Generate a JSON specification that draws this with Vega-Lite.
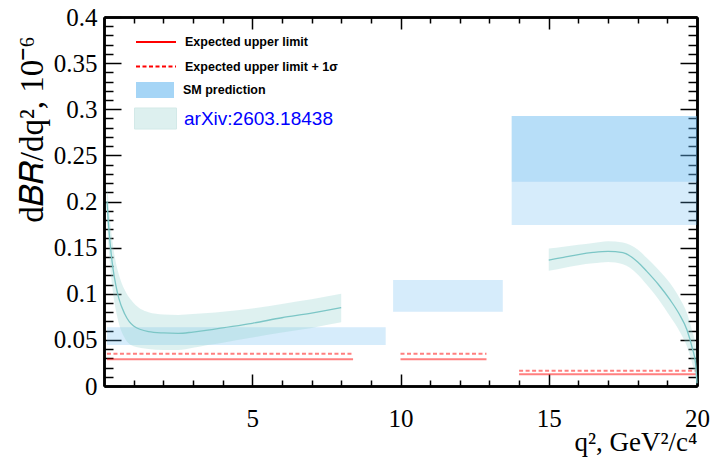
{
  "$schema": "https://vega.github.io/schema/vega-lite/v6.json",
  "width": 593,
  "height": 369,
  "autosize": {"type": "none"},
  "padding": {"left": 104, "top": 17, "right": 25, "bottom": 74},
  "background": "white",
  "config": {
    "font": "Liberation Serif",
    "view": {"stroke": null},
    "axis": {
      "grid": false,
      "domainColor": "black",
      "domainWidth": 2.5,
      "tickColor": "black",
      "tickWidth": 1.5,
      "labelFont": "Liberation Serif",
      "labelFontSize": 25,
      "labelColor": "black",
      "labelFlush": false,
      "labelOverlap": false,
      "titleFont": "Liberation Serif",
      "titleFontWeight": "normal",
      "titleColor": "black"
    },
    "legend": {
      "orient": "none",
      "title": null,
      "padding": 0,
      "symbolSize": 400,
      "rowPadding": -2,
      "labelOffset": 18,
      "labelFont": "Liberation Sans",
      "labelFontSize": 12.5,
      "labelFontWeight": "bold",
      "labelColor": "black",
      "labelBaseline": "middle",
      "labelLimit": 400
    }
  },
  "datasets": {
    "limits": [
      {"series": "Expected upper limit", "q2_lo": 0.1, "q2_hi": 8.4, "value": 0.029},
      {"series": "Expected upper limit + 1σ", "q2_lo": 0.1, "q2_hi": 8.4, "value": 0.035},
      {"series": "Expected upper limit", "q2_lo": 10.0, "q2_hi": 12.9, "value": 0.029},
      {"series": "Expected upper limit + 1σ", "q2_lo": 10.0, "q2_hi": 12.9, "value": 0.035},
      {"series": "Expected upper limit", "q2_lo": 14.0, "q2_hi": 20.0, "value": 0.0127},
      {"series": "Expected upper limit + 1σ", "q2_lo": 14.0, "q2_hi": 20.0, "value": 0.0166}
    ],
    "sm": [
      {"q2_lo": 0.1, "q2_hi": 9.5, "lo": 0.0444, "hi": 0.0637},
      {"q2_lo": 9.75, "q2_hi": 13.45, "lo": 0.0805, "hi": 0.1149},
      {"q2_lo": 13.75, "q2_hi": 20.0, "lo": 0.1745, "hi": 0.2927},
      {"q2_lo": 13.75, "q2_hi": 20.0, "lo": 0.2215, "hi": 0.2927}
    ],
    "theory": [
      {"seg": 1, "q2": 0.10, "center": 0.200, "lo": 0.178, "hi": 0.222},
      {"seg": 1, "q2": 0.15, "center": 0.176, "lo": 0.152, "hi": 0.200},
      {"seg": 1, "q2": 0.20, "center": 0.157, "lo": 0.132, "hi": 0.181},
      {"seg": 1, "q2": 0.30, "center": 0.128, "lo": 0.102, "hi": 0.153},
      {"seg": 1, "q2": 0.40, "center": 0.109, "lo": 0.082, "hi": 0.134},
      {"seg": 1, "q2": 0.50, "center": 0.095, "lo": 0.068, "hi": 0.121},
      {"seg": 1, "q2": 0.70, "center": 0.078, "lo": 0.052, "hi": 0.104},
      {"seg": 1, "q2": 1.00, "center": 0.065, "lo": 0.043, "hi": 0.090},
      {"seg": 1, "q2": 1.50, "center": 0.059, "lo": 0.040, "hi": 0.080},
      {"seg": 1, "q2": 2.00, "center": 0.0575, "lo": 0.039, "hi": 0.0775},
      {"seg": 1, "q2": 2.50, "center": 0.057, "lo": 0.039, "hi": 0.077},
      {"seg": 1, "q2": 3.00, "center": 0.0585, "lo": 0.0415, "hi": 0.078},
      {"seg": 1, "q2": 3.50, "center": 0.0605, "lo": 0.0445, "hi": 0.079},
      {"seg": 1, "q2": 4.00, "center": 0.063, "lo": 0.047, "hi": 0.0805},
      {"seg": 1, "q2": 5.00, "center": 0.068, "lo": 0.0525, "hi": 0.084},
      {"seg": 1, "q2": 6.00, "center": 0.074, "lo": 0.058, "hi": 0.089},
      {"seg": 1, "q2": 7.00, "center": 0.079, "lo": 0.063, "hi": 0.094},
      {"seg": 1, "q2": 8.00, "center": 0.085, "lo": 0.069, "hi": 0.100},
      {"seg": 2, "q2": 15.0, "center": 0.1365, "lo": 0.125, "hi": 0.149},
      {"seg": 2, "q2": 15.5, "center": 0.1395, "lo": 0.128, "hi": 0.151},
      {"seg": 2, "q2": 16.0, "center": 0.1425, "lo": 0.131, "hi": 0.153},
      {"seg": 2, "q2": 16.5, "center": 0.1448, "lo": 0.133, "hi": 0.155},
      {"seg": 2, "q2": 17.0, "center": 0.146, "lo": 0.1345, "hi": 0.157},
      {"seg": 2, "q2": 17.5, "center": 0.1445, "lo": 0.132, "hi": 0.1555},
      {"seg": 2, "q2": 18.0, "center": 0.1345, "lo": 0.121, "hi": 0.148},
      {"seg": 2, "q2": 18.3, "center": 0.1245, "lo": 0.110, "hi": 0.139},
      {"seg": 2, "q2": 18.7, "center": 0.110, "lo": 0.094, "hi": 0.126},
      {"seg": 2, "q2": 19.1, "center": 0.093, "lo": 0.075, "hi": 0.111},
      {"seg": 2, "q2": 19.4, "center": 0.078, "lo": 0.060, "hi": 0.096},
      {"seg": 2, "q2": 19.66, "center": 0.061, "lo": 0.043, "hi": 0.079},
      {"seg": 2, "q2": 19.85, "center": 0.040, "lo": 0.023, "hi": 0.058},
      {"seg": 2, "q2": 19.95, "center": 0.025, "lo": 0.010, "hi": 0.045},
      {"seg": 2, "q2": 20.0, "center": 0.003, "lo": 0.0, "hi": 0.02}
    ]
  },
  "resolve": {"axis": {"x": "independent", "y": "independent"}},
  "layer": [
    {
      "data": {"name": "limits"},
      "mark": {"type": "rule", "strokeWidth": 2, "color": "#ff0000", "opacity": 0.5},
      "encoding": {
        "x": {
          "field": "q2_lo", "type": "quantitative",
          "scale": {"domain": [0, 20], "nice": false, "zero": false},
          "axis": {
            "orient": "top", "values": [1, 2, 3, 4, 6, 7, 8, 9, 11, 12, 13, 14, 16, 17, 18, 19],
            "tickSize": -6, "labels": false, "title": null
          }
        },
        "x2": {"field": "q2_hi"},
        "y": {
          "field": "value", "type": "quantitative",
          "scale": {"domain": [0, 0.4], "nice": false, "zero": false},
          "axis": {
            "orient": "right",
            "values": [0.01, 0.02, 0.03, 0.04, 0.06, 0.07, 0.08, 0.09, 0.11, 0.12, 0.13, 0.14, 0.16, 0.17, 0.18, 0.19, 0.21, 0.22, 0.23, 0.24, 0.26, 0.27, 0.28, 0.29, 0.31, 0.32, 0.33, 0.34, 0.36, 0.37, 0.38, 0.39],
            "tickSize": -9, "labels": false, "title": null
          }
        },
        "strokeDash": {
          "field": "series", "type": "nominal",
          "scale": {"domain": ["Expected upper limit", "Expected upper limit + 1σ"], "range": [[1, 0], [4, 2.5]]},
          "legend": {
            "legendX": 41, "legendY": 14, "rowPadding": 6.5,
            "symbolType": "M-2,0H2",
            "symbolStrokeColor": "#ff0000", "symbolStrokeWidth": 2, "symbolOpacity": 1,
            "symbolFillColor": "transparent"
          }
        }
      }
    },
    {
      "data": {"name": "sm"},
      "mark": {"type": "rect", "opacity": 0.25},
      "encoding": {
        "x": {
          "field": "q2_lo", "type": "quantitative",
          "scale": {"domain": [0, 20], "nice": false, "zero": false},
          "axis": {
            "orient": "bottom", "values": [5, 10, 15, 20], "tickSize": -12, "labelPadding": 32,
            "labelBaseline": "top", "labelFont": "Liberation Serif",
            "title": "q², GeV²/c⁴", "titleFontSize": 27, "titleAnchor": "end", "titleAlign": "right",
            "titleX": 593, "titleY": 64, "titleBaseline": "alphabetic", "titleFont": "Liberation Serif"
          }
        },
        "x2": {"field": "q2_hi"},
        "y": {
          "field": "lo", "type": "quantitative",
          "scale": {"domain": [0, 0.4], "nice": false, "zero": false},
          "axis": {
            "orient": "left",
            "values": [0, 0.05, 0.1, 0.15, 0.2, 0.25, 0.3, 0.35, 0.4],
            "format": "~g", "tickSize": -17, "labelPadding": 24, "labelBaseline": "middle",
            "labelFont": "Liberation Serif",
            "title": "d𝐵𝑅/dq², 10⁻⁶", "titleFontSize": 33, "titleAngle": -90, "titleFont": "Liberation Serif",
            "titleX": -62, "titleY": 112, "titleAlign": "center", "titleBaseline": "alphabetic"
          }
        },
        "y2": {"field": "hi"},
        "fill": {
          "datum": "SM prediction", "type": "nominal",
          "scale": {"domain": ["SM prediction"], "range": ["#5bb3ef"]},
          "legend": {
            "legendX": 41, "legendY": 63,
            "symbolType": "M-1.9,-0.8H1.9V0.8H-1.9Z",
            "symbolOpacity": 0.55, "symbolStrokeColor": "transparent", "symbolStrokeWidth": 0
          }
        }
      }
    },
    {
      "data": {"name": "theory"},
      "mark": {"type": "area", "opacity": 0.3, "interpolate": "monotone"},
      "encoding": {
        "x": {
          "field": "q2", "type": "quantitative",
          "scale": {"domain": [0, 20], "nice": false, "zero": false},
          "axis": {
            "orient": "bottom", "values": [1, 2, 3, 4, 6, 7, 8, 9, 11, 12, 13, 14, 16, 17, 18, 19],
            "tickSize": -6, "labels": false, "title": null
          }
        },
        "y": {
          "field": "lo", "type": "quantitative",
          "scale": {"domain": [0, 0.4], "nice": false, "zero": false},
          "axis": {
            "orient": "left",
            "values": [0.01, 0.02, 0.03, 0.04, 0.06, 0.07, 0.08, 0.09, 0.11, 0.12, 0.13, 0.14, 0.16, 0.17, 0.18, 0.19, 0.21, 0.22, 0.23, 0.24, 0.26, 0.27, 0.28, 0.29, 0.31, 0.32, 0.33, 0.34, 0.36, 0.37, 0.38, 0.39],
            "tickSize": -9, "labels": false, "title": null
          }
        },
        "y2": {"field": "hi"},
        "detail": {"field": "seg", "type": "nominal"},
        "color": {
          "datum": "arXiv:2603.18438", "type": "nominal",
          "scale": {"domain": ["arXiv:2603.18438"], "range": ["#91d0cd"]},
          "legend": {
            "legendX": 41, "legendY": 91,
            "symbolType": "M-2.1,-1.05H2.1V1.05H-2.1Z",
            "symbolOpacity": 0.3, "symbolStrokeColor": "#6fb8b4", "symbolStrokeWidth": 1,
            "labelColor": "#0000ff", "labelFontSize": 19, "labelFontWeight": "normal"
          }
        }
      }
    },
    {
      "data": {"name": "theory"},
      "mark": {"type": "line", "color": "#7cc6c6", "strokeWidth": 1.3, "interpolate": "monotone"},
      "encoding": {
        "x": {
          "field": "q2", "type": "quantitative",
          "scale": {"domain": [0, 20], "nice": false, "zero": false},
          "axis": {"orient": "top", "values": [0, 5, 10, 15, 20], "tickSize": -12, "labels": false, "title": null}
        },
        "y": {
          "field": "center", "type": "quantitative",
          "scale": {"domain": [0, 0.4], "nice": false, "zero": false},
          "axis": {
            "orient": "right",
            "values": [0, 0.05, 0.1, 0.15, 0.2, 0.25, 0.3, 0.35, 0.4],
            "tickSize": -17, "labels": false, "title": null
          }
        },
        "detail": {"field": "seg", "type": "nominal"}
      }
    }
  ]
}
